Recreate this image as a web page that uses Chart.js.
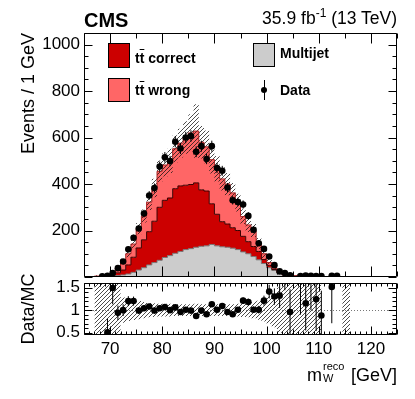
<!DOCTYPE html>
<html><head><meta charset="utf-8">
<script src="https://cdn.jsdelivr.net/npm/chart.js@4.4.1/dist/chart.umd.min.js"></script>
<style>
html,body{margin:0;padding:0;background:#fff;}
#wrap{position:relative;width:415px;height:399px;overflow:hidden;font-family:"Liberation Sans",Arial,Helvetica,sans-serif;color:#000;}
canvas{position:absolute;left:0;}
.t{position:absolute;white-space:nowrap;line-height:1;}
.b{font-weight:bold;}
.box{position:absolute;box-sizing:border-box;border:1px solid #000;}
.ob{text-decoration:overline;}
</style></head><body>
<div id="wrap">
<canvas id="main" width="415" height="281" style="top:0"></canvas>
<canvas id="ratio" width="415" height="129" style="top:270px"></canvas>
<div class="t b" style="left:84px;top:10px;font-size:20px">CMS</div>
<div class="t" style="right:18px;top:10px;font-size:17.5px">35.9 fb<sup style="font-size:12px;vertical-align:7px;line-height:0">-1</sup> (13 TeV)</div>
<div class="t" style="left:19px;top:283px;width:250px;text-align:right;font-size:18px;transform-origin:0 0;transform:rotate(-90deg)">Events / 1 GeV</div>
<div class="t" style="left:19px;top:369px;width:120px;text-align:center;font-size:18px;transform-origin:0 0;transform:rotate(-90deg)">Data/MC</div>
<div class="t" style="right:18px;top:363px;font-size:18px">m<span style="position:relative;display:inline-block;width:24px;height:1em;"><span style="position:absolute;left:1px;top:-2px;font-size:11px">reco</span><span style="position:absolute;left:1px;top:10px;font-size:11px">W</span></span> [GeV]</div>
<div class="box" style="left:108px;top:43px;width:22px;height:25px;background:#cc0000"></div>
<div class="box" style="left:108px;top:78px;width:22px;height:24px;background:#ff6666"></div>
<div class="box" style="left:253px;top:43px;width:22px;height:24px;background:#cccccc"></div>
<div style="position:absolute;left:263.5px;top:80px;width:1px;height:20px;background:#000"></div>
<div style="position:absolute;left:261px;top:87px;width:6px;height:6px;border-radius:50%;background:#000"></div>
<div class="t b" style="left:135px;top:51px;font-size:14px">t<span class="ob">t</span> correct</div>
<div class="t b" style="left:135px;top:83px;font-size:14px">t<span class="ob">t</span> wrong</div>
<div class="t b" style="left:280px;top:46px;font-size:14px">Multijet</div>
<div class="t b" style="left:280px;top:83px;font-size:14px">Data</div>
</div>
<script>
// ---------------- data ----------------
const binCenters = [67.5,68.5,69.5,70.5,71.5,72.5,73.5,74.5,75.5,76.5,
  77.5,78.5,79.5,80.5,81.5,82.5,83.5,84.5,85.5,86.5,
  87.5,88.5,89.5,90.5,91.5,92.5,93.5,94.5,95.5,96.5,
  97.5,98.5,99.5,100.5,101.5,102.5,103.5,104.5,105.5,106.5,
  107.5,108.5,109.5,110.5,111.5,112.5,113.5,114.5,115.5];
const binWidth = 1;
const multijet = [1,2,3,4,6,9,13,20,30,40,
  52,62,72,84,92,102,110,118,122,128,
  132,134,140,134,130,128,124,118,108,100,
  88,74,58,40,28,16,8,5,4,3,
  4,2,3,4,2,3,0,1,1];
const ttCorrect = [1,1,2,5,12,21,39,65,95,120,
  143,178,228,246,248,278,282,277,276,277,
  243,236,175,136,108,100,88,82,67,52,
  43,36,17,10,4,2,1,1,0,0,
  0,0,0,0,0,0,0,0,0];
const ttWrong = [2,3,5,5,22,37,48,57,83,102,
  127,143,155,152,160,172,184,205,222,223,
  205,190,190,196,184,172,150,120,85,72,
  69,34,25,12,7,2,1,1,1,0,
  1,0,0,0,0,0,0,0,0];
const mcUnc = [4,5,6,8,10,12,15,18,24,28,
  34,40,46,50,52,58,62,70,80,115,
  70,70,60,55,50,48,42,38,32,30,
  28,24,20,15,12,10,8,7,6,5,
  5,4,4,4,3,3,3,3,3];
const dataVal = [null,3,5,17,38,67,119,169,209,273,
  351,383,475,515,499,582,553,600,607,539,
  563,508,563,469,457,385,330,323,312,263,
  203,145,121,88,51,24,17,7,null,4,
  6,5,4,4,null,5,5,null,null];
const dataErr = [0,1.7,2.2,4.1,6.2,8.2,10.9,13,14.5,16.5,
  18.7,19.6,21.8,22.7,22.3,24.1,23.5,24.5,24.6,23.2,
  23.7,22.5,23.7,21.7,21.4,19.6,18.2,18,17.7,16.2,
  14.2,12,11,9.4,7.1,4.9,4.1,2.6,0,2,
  2.4,2.2,2,2,0,2.2,2.2,0,0];
const ratioVal = [null,null,0.51,1.49,0.94,1.0,1.2,1.2,0.99,1.04,
  1.08,0.99,1.04,1.07,1.0,1.06,0.96,1.01,0.99,0.87,
  0.99,0.91,1.13,1.01,1.09,0.96,0.91,1.01,1.21,1.18,
  1.01,1.01,1.21,1.41,1.30,1.32,1.9,0.96,null,1.8,
  1.15,1.8,1.24,0.88,null,1.51,null,null,null];
const ratioErr = [0,0,0.3,0.36,0.16,0.13,0.11,0.1,0.07,0.065,
  0.06,0.055,0.05,0.05,0.048,0.046,0.044,0.043,0.042,0.04,
  0.042,0.042,0.048,0.047,0.05,0.05,0.05,0.056,0.07,0.075,
  0.07,0.085,0.11,0.15,0.18,0.27,0.46,0.5,0,0.9,
  0.6,0.8,0.7,0.55,0,0.8,0,0,0];
const ratioUnc = [1.2,1.2,1.2,1.2,1.2,0.28,0.24,0.22,0.2,0.18,
  0.16,0.15,0.14,0.14,0.14,0.13,0.13,0.13,0.13,0.14,
  0.13,0.13,0.13,0.13,0.13,0.13,0.13,0.14,0.15,0.16,
  0.18,0.21,0.25,0.3,0.38,0.5,1.2,1.2,1.2,1.2,
  1.2,1.2,1.2,1.2,null,null,null,1.2,1.2];
const xRange = [65, 125];
const xTickValues = [70, 80, 90, 100, 110, 120];
const yRangeMain = [0, 1050];
const yTicksMain = [200, 400, 600, 800, 1000];
const yRangeRatio = [0.45, 1.6];
const yTicksRatio = [0.5, 1, 1.5];
// --------------------------------------

const FONT = '"Liberation Sans", Arial, Helvetica, sans-serif';

function stepPoints(vals){
  const pts = [{x: binCenters[0] - binWidth/2, y: vals[0]}];
  binCenters.forEach((c,i) => pts.push({x: c, y: vals[i]}));
  pts.push({x: binCenters[binCenters.length-1] + binWidth/2, y: vals[vals.length-1]});
  return pts;
}
const cumMJ = multijet.slice();
const cumTTC = multijet.map((v,i) => v + ttCorrect[i]);
const cumTot = cumTTC.map((v,i) => v + ttWrong[i]);
const bandUp = cumTot.map((v,i) => v + mcUnc[i]);
const bandLo = cumTot.map((v,i) => Math.max(v - mcUnc[i], 0));
const rUp = ratioUnc.map(u => u == null ? null : 1 + u);
const rLo = ratioUnc.map(u => u == null ? null : 1 - u);

function makeHatch(canvas){
  const c = document.createElement('canvas'); c.width = 4; c.height = 4;
  const g = c.getContext('2d');
  g.strokeStyle = 'rgba(20,20,20,0.85)'; g.lineWidth = 0.9;
  g.beginPath();
  g.moveTo(0,4); g.lineTo(4,0);
  g.moveTo(-1,1); g.lineTo(1,-1);
  g.moveTo(3,5); g.lineTo(5,3);
  g.stroke();
  return canvas.getContext('2d').createPattern(c, 'repeat');
}

function framePlugin(cfg){
  return {
    id: 'frameTicks',
    afterDraw(chart){
      const {ctx, chartArea: a, scales: {x, y}} = chart;
      ctx.save();
      ctx.strokeStyle = '#000'; ctx.lineWidth = 1;
      const L = Math.round(a.left) + 0.5, R = Math.round(a.right) - 0.5;
      const T = Math.round(a.top) + 0.5, B = Math.round(a.bottom) - 0.5;
      ctx.beginPath();
      ctx.rect(L, T, R - L, B - T);
      const xr = Math.round(cfg.xMajor / cfg.xMinor);
      for (let k = Math.ceil(x.min / cfg.xMinor); k * cfg.xMinor <= x.max + 1e-9; k++) {
        const v = k * cfg.xMinor;
        const px = Math.round(x.getPixelForValue(v)) + 0.5;
        const len = (k % xr === 0) ? cfg.xMajLen : ((cfg.xMidEvery && k % cfg.xMidEvery === 0) ? cfg.xMidLen : cfg.xMinLen);
        ctx.moveTo(px, B); ctx.lineTo(px, B - len);
        ctx.moveTo(px, T); ctx.lineTo(px, T + len);
      }
      const yr = Math.round(cfg.yMajor / cfg.yMinor);
      for (let k = Math.ceil(y.min / cfg.yMinor - 1e-9); k * cfg.yMinor <= y.max + 1e-9; k++) {
        const v = k * cfg.yMinor;
        const py = Math.round(y.getPixelForValue(v)) + 0.5;
        const len = (k % yr === 0) ? cfg.yMajLen : cfg.yMinLen;
        ctx.moveTo(L, py); ctx.lineTo(L + len, py);
        ctx.moveTo(R, py); ctx.lineTo(R - len, py);
      }
      ctx.stroke();
      ctx.restore();
    }
  };
}

function errorPlugin(xs, vals, errs, unity){
  return {
    id: 'errorBars',
    beforeDatasetsDraw(chart){
      if (!unity) return;
      const {ctx, chartArea: a, scales: {y}} = chart;
      const py = Math.round(y.getPixelForValue(1)) + 0.5;
      ctx.save();
      ctx.strokeStyle = '#777'; ctx.lineWidth = 1; ctx.setLineDash([1, 2]);
      ctx.beginPath(); ctx.moveTo(a.left, py); ctx.lineTo(a.right, py); ctx.stroke();
      ctx.restore();
    },
    afterDatasetsDraw(chart){
      const {ctx, chartArea: a, scales: {x, y}} = chart;
      ctx.save();
      ctx.beginPath(); ctx.rect(a.left, a.top, a.right - a.left, a.bottom - a.top); ctx.clip();
      ctx.strokeStyle = '#000'; ctx.lineWidth = 1;
      ctx.beginPath();
      vals.forEach((v, i) => {
        if (v == null || !errs[i]) return;
        const px = x.getPixelForValue(xs[i]);
        ctx.moveTo(px, y.getPixelForValue(v - errs[i]));
        ctx.lineTo(px, y.getPixelForValue(v + errs[i]));
      });
      ctx.stroke();
      ctx.restore();
    }
  };
}

const mainCanvas = document.getElementById('main');
const ratioCanvas = document.getElementById('ratio');
const hatchMain = makeHatch(mainCanvas);
const hatchRatio = makeHatch(ratioCanvas);
const clear = 'rgba(0,0,0,0)';
const fixTicks = vals => s => { s.ticks = vals.map(v => ({value: v})); };

const common = {
  responsive: false, animation: false, devicePixelRatio: 1,
  elements: {line: {tension: 0}},
  events: [],
};

new Chart(mainCanvas, {
  type: 'line',
  data: {datasets: [
    {label: 'Data', data: binCenters.map((c,i) => ({x: c, y: dataVal[i]})), showLine: false,
     pointRadius: 3.3, pointBackgroundColor: '#000', pointBorderWidth: 0, borderColor: '#000'},
    {label: 'unc', data: stepPoints(bandUp), stepped: 'middle', borderColor: clear, borderWidth: 0,
     pointRadius: 0, fill: {target: 2}, backgroundColor: hatchMain},
    {label: 'unclo', data: stepPoints(bandLo), stepped: 'middle', borderColor: clear, borderWidth: 0,
     pointRadius: 0, fill: false},
    {label: 'tt wrong', data: stepPoints(cumTot), stepped: 'middle', borderWidth: 1, borderColor: '#a52020',
     pointRadius: 0, fill: {target: 4}, backgroundColor: '#ff6666'},
    {label: 'tt correct', data: stepPoints(cumTTC), stepped: 'middle', borderWidth: 1, borderColor: '#3a0000',
     pointRadius: 0, fill: {target: 5}, backgroundColor: '#cc0000'},
    {label: 'Multijet', data: stepPoints(cumMJ), stepped: 'middle', borderWidth: 1, borderColor: '#777',
     pointRadius: 0, fill: 'origin', backgroundColor: '#cccccc'}
  ]},
  options: Object.assign({}, common, {
    layout: {padding: {left: 0, right: 18, top: 33, bottom: 2}},
    plugins: {legend: {display: false}, tooltip: {enabled: false}, filler: {drawTime: 'beforeDatasetsDraw'}},
    scales: {
      x: {type: 'linear', min: xRange[0], max: xRange[1], display: false},
      y: {type: 'linear', min: yRangeMain[0], max: yRangeMain[1],
          grid: {display: false, drawTicks: false}, border: {display: false},
          ticks: {padding: 4, color: '#000', font: {family: FONT, size: 17}, callback: v => String(v)},
          afterBuildTicks: fixTicks(yTicksMain),
          afterFit: s => { s.width = 84; s.paddingTop = 0; s.paddingBottom = 0; }}
    }
  }),
  plugins: [framePlugin({xMinor: 5, xMajor: 10, xMajLen: 10, xMinLen: 5, yMinor: 50, yMajor: 200, yMajLen: 8, yMinLen: 4}),
            errorPlugin(binCenters, dataVal, dataErr, false)]
});

new Chart(ratioCanvas, {
  type: 'line',
  data: {datasets: [
    {label: 'ratio', data: binCenters.map((c,i) => ({x: c, y: ratioVal[i]})), showLine: false,
     pointRadius: 3.3, pointBackgroundColor: '#000', pointBorderWidth: 0, borderColor: '#000'},
    {label: 'runc', data: stepPoints(rUp), stepped: 'middle', borderColor: clear, borderWidth: 0,
     pointRadius: 0, fill: {target: 2}, backgroundColor: hatchRatio, spanGaps: false},
    {label: 'runclo', data: stepPoints(rLo), stepped: 'middle', borderColor: clear, borderWidth: 0,
     pointRadius: 0, fill: false, spanGaps: false}
  ]},
  options: Object.assign({}, common, {
    layout: {padding: {left: 0, right: 18, top: 13, bottom: 0}},
    plugins: {legend: {display: false}, tooltip: {enabled: false}},
    scales: {
      x: {type: 'linear', min: xRange[0], max: xRange[1],
          grid: {display: false, drawTicks: false}, border: {display: false},
          ticks: {padding: 4, color: '#000', font: {family: FONT, size: 17}, maxRotation: 0, autoSkip: false,
                  callback: v => String(v)},
          afterBuildTicks: fixTicks(xTickValues),
          afterFit: s => { s.height = 64; s.paddingLeft = 0; s.paddingRight = 0; }},
      y: {type: 'linear', min: yRangeRatio[0], max: yRangeRatio[1],
          grid: {display: false, drawTicks: false}, border: {display: false},
          ticks: {padding: 4, color: '#000', font: {family: FONT, size: 17},
                  callback: v => String(v)},
          afterBuildTicks: fixTicks(yTicksRatio),
          afterFit: s => { s.width = 84; s.paddingTop = 0; s.paddingBottom = 0; }}
    }
  }),
  plugins: [framePlugin({xMinor: 1, xMajor: 10, xMajLen: 8, xMinLen: 3, xMidEvery: 5, xMidLen: 5, yMinor: 0.1, yMajor: 0.5, yMajLen: 8, yMinLen: 4}),
            errorPlugin(binCenters, ratioVal, ratioErr, true)]
});
</script>
</body></html>
